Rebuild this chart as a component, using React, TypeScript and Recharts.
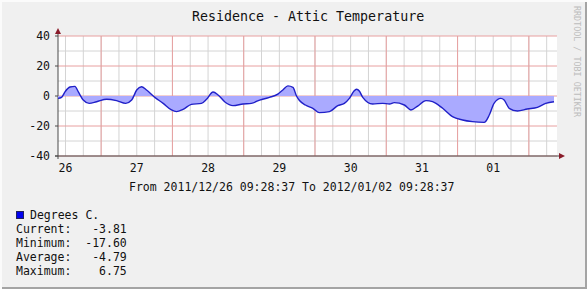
import { AreaChart, Area, XAxis, YAxis, CartesianGrid, usePlotArea } from 'recharts'

// hours since 2011/12/26 09:28:37
const hours = [
  0, 1.2, 2.4, 4.0, 5.7, 6.8, 8.5, 10.5, 13.0, 16.4, 19.7, 22.8, 24.8, 26.5, 28.1, 29.8,
  32.6, 35.4, 38.2, 39.9, 42.1, 44.9, 48.3, 50.0, 52.2, 53.9, 56.1, 58.9, 62.3, 65.1,
  67.9, 71.2, 74.0, 75.7, 77.4, 79.1, 80.3, 81.3, 83.3, 85.8, 88.0, 91.4, 94.2, 96.4,
  98.1, 99.6, 100.5, 101.5, 102.6, 105.9, 109.3, 111.6, 113.2, 116.6, 118.8, 121.1,
  123.9, 126.1, 129.5, 132.8, 136.2, 139.5, 143.5, 145.2, 146.8, 149.1, 150.2, 151.9,
  154.7, 158.0, 161.4, 164.2, 167.0,
]
const degrees = [
  -1.6, -0.9, 2.9, 6.0, 6.4, 2.9, -2.7, -4.9, -3.8, -2.2, -3.1, -4.9, -2.7, 4.0, 6.2, 4.0,
  -0.9, -4.9, -9.3, -10.4, -8.9, -5.6, -4.9, -2.2, 2.7, 0.7, -3.8, -6.4, -5.3, -4.9,
  -2.7, -0.9, 1.3, 4.0, 6.75, 5.8, 0, -3.0, -6.0, -8.2, -11.1, -10.4, -6.4, -4.9,
  -1.6, 3.2, 4.5, 3.2, -0.9, -5.3, -4.9, -5.3, -4.4, -6.0, -9.3, -6.7,
  -3.1, -3.8, -8.2, -13.8, -16.0, -17.1, -17.6, -12.7, -4.9, -1.6, -2.7, -8.2,
  -10.0, -8.7, -7.6, -4.9, -3.81,
]

const dayLabels = ['26', '27', '28', '29', '30', '31', '01']
const firstMidnight = 14 + 31 / 60 + 23 / 3600
const noonTicks = dayLabels.map((_, i) => firstMidnight - 12 + i * 24)
const midnightLines = dayLabels.map((_, i) => firstMidnight + i * 24).filter((h) => h < 168)
const sixHourLines = Array.from({ length: 29 }, (_, i) => firstMidnight - 12 + i * 6).filter(
  (h) => h > 0 && h < 168
)
const yTicks = [-40, -20, 0, 20, 40]
const yMinor = [-30, -10, 10, 30]

const statNames = ['Current:', 'Minimum:', 'Average:', 'Maximum:']
const statValues = ['-3.81', '-17.60', '-4.79', '6.75']

const data = hours.map((h, i) => ({ h, v: degrees[i] }))

const FONT = '"DejaVu Sans Mono", monospace'
const AXIS = '#4a4a4a'
const ARROW = '#8a1c2a'

function AxisArrows() {
  const area = usePlotArea()
  if (!area) return null
  const { x, y, width, height } = area
  const bottom = y + height
  const right = x + width
  return (
    <g>
      <line x1={x - 3} y1={bottom} x2={right + 4} y2={bottom} stroke={AXIS} />
      <line x1={x} y1={bottom + 3} x2={x} y2={y - 4} stroke={AXIS} />
      <polygon points={`${right + 2},${bottom - 3} ${right + 8},${bottom} ${right + 2},${bottom + 3}`} fill={ARROW} />
      <polygon points={`${x - 3},${y - 2} ${x},${y - 8} ${x + 3},${y - 2}`} fill={ARROW} />
    </g>
  )
}

const text = (extra: React.CSSProperties): React.CSSProperties => ({
  position: 'absolute',
  fontFamily: FONT,
  fontSize: 11.5,
  lineHeight: '14px',
  color: '#111',
  whiteSpace: 'pre',
  ...extra,
})

export default function App() {
  return (
    <div style={{ position: 'absolute', left: 0, top: 0, width: 587, height: 289, background: '#f0f0f0' }}>
      <AreaChart width={587} height={289} data={data} margin={{ top: 36, right: 30, bottom: 109, left: 0 }}>
        <CartesianGrid
          fill="#ffffff"
          stroke="#d4d4d4"
          horizontalValues={yMinor}
          verticalValues={sixHourLines}
        />
        <CartesianGrid
          stroke="#e8a0a0"
          horizontalValues={yTicks}
          verticalValues={midnightLines}
        />
        <XAxis
          dataKey="h"
          type="number"
          domain={[0, 168]}
          ticks={noonTicks}
          interval={0}
          tickFormatter={(_v, i) => dayLabels[i]}
          axisLine={false}
          tickLine={false}
          tickSize={3}
          tickMargin={5}
          height={24}
          tick={{ fill: '#111', fontSize: 11.5, fontFamily: FONT }}
        />
        <YAxis
          type="number"
          domain={[-40, 40]}
          ticks={yTicks}
          interval={0}
          width={58}
          axisLine={false}
          tickLine={{ stroke: AXIS }}
          tickSize={3}
          tickMargin={5}
          tick={{ fill: '#111', fontSize: 11.5, fontFamily: FONT }}
        />
        <Area
          dataKey="v"
          type="monotone"
          baseValue={0}
          stroke="#2020c8"
          strokeWidth={1.4}
          fill="#aaaaff"
          fillOpacity={1}
          dot={false}
          activeDot={false}
          isAnimationActive={false}
        />
        <AxisArrows />
      </AreaChart>

      <div style={text({ left: 192, top: 9, fontSize: 13.3, lineHeight: '16px' })}>
        Residence - Attic Temperature
      </div>
      <div style={text({ left: 129, top: 180 })}>From 2011/12/26 09:28:37 To 2012/01/02 09:28:37</div>

      <div
        style={{
          position: 'absolute',
          left: 16,
          top: 211,
          width: 6,
          height: 6,
          background: '#0000ee',
          border: '1px solid #202060',
        }}
      />
      <div style={text({ left: 30, top: 208 })}>Degrees C.</div>
      {statNames.map((name, i) => (
        <div key={name} style={text({ left: 16, top: 222 + i * 14 })}>
          {name}
          <span style={{ display: 'inline-block', width: 8 * 6.92, textAlign: 'right' }}>{statValues[i]}</span>
        </div>
      ))}

      <div
        style={{
          position: 'absolute',
          left: 572,
          top: 6,
          writingMode: 'vertical-rl',
          fontFamily: FONT,
          fontSize: 8.4,
          lineHeight: '10px',
          color: '#bdbdbd',
          whiteSpace: 'pre',
        }}
      >
        RRDTOOL / TOBI OETIKER
      </div>

      <div
        style={{
          position: 'absolute',
          inset: 0,
          pointerEvents: 'none',
          boxShadow: 'inset 2px 2px 0 #fbfbfb, inset -2px -2px 0 #a4a4a4',
        }}
      />
    </div>
  )
}
